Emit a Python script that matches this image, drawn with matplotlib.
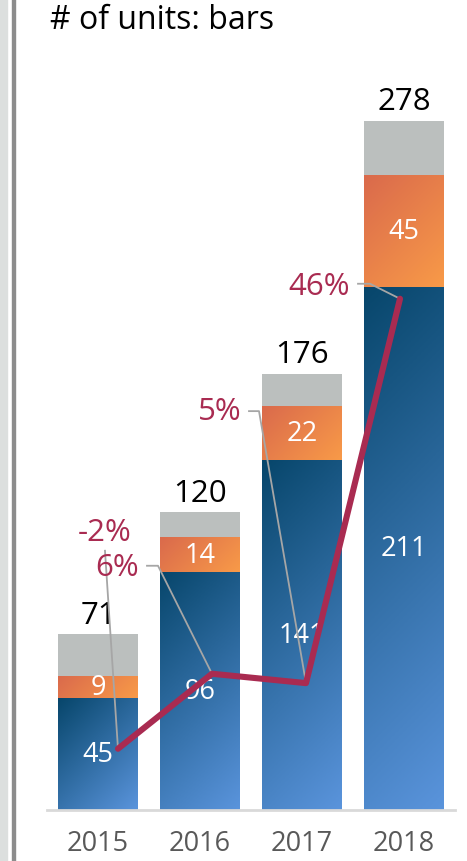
import numpy as np
import matplotlib.pyplot as plt
from matplotlib.colors import LinearSegmentedColormap
from matplotlib.patches import Rectangle
from matplotlib.transforms import IdentityTransform

plt.rcParams['font.family'] = ['Open Sans', 'DejaVu Sans']

# units per year, stacked
years = ['2015', '2016', '2017', '2018']
base_units = [45, 96, 141, 211]
extra_units = [9, 14, 22, 45]
total_units = [71, 120, 176, 278]
other_units = [t - b - e for t, b, e in zip(total_units, base_units, extra_units)]

# growth line (%)
growth = [-2, 6, 5, 46]
growth_labels = ['-2%', '6%', '5%', '46%']

blue_cmap = LinearSegmentedColormap.from_list('blue', ['#07466b', '#5a94dc'])
orange_cmap = LinearSegmentedColormap.from_list('orange', ['#da6a4c', '#f89a48'])
grey = '#bbbfbe'
line_color = '#a92b51'
leader_color = '#a6a6a6'

W, H = 467, 862
fig = plt.figure(figsize=(W / 100, H / 100), dpi=100)

# side strip on the left
fig.patches.append(Rectangle((0, 0), 7 / W, 1, transform=fig.transFigure,
                             color='#dcdfde', zorder=0))
fig.patches.append(Rectangle((12 / W, 0), 3 / W, 1, transform=fig.transFigure,
                             color='#8c8c8c', zorder=0))

left, right, bottom, top = 47, 455, 811, 90
ax = fig.add_axes([left / W, (H - bottom) / H, (right - left) / W, (bottom - top) / H])
ax.set_xlim(-0.5, 3.5)
ax.set_ylim(0, (bottom - top) / 2.48)
for s in ['top', 'right', 'left']:
    ax.spines[s].set_visible(False)
ax.spines['bottom'].set_color('#d9d9d9')
ax.spines['bottom'].set_linewidth(2)
ax.set_yticks([])
ax.set_xticks(range(len(years)))
ax.set_xticklabels(years, fontsize=19.5, color='#595959')
ax.tick_params(axis='x', length=0, pad=14)

bar_w = 0.78
x = np.arange(len(years))


def gradient_bar(xc, y0, h, cmap):
    rect = Rectangle((xc - bar_w / 2, y0), bar_w, h, facecolor='none', edgecolor='none')
    ax.add_patch(rect)
    (px0, py0), (px1, py1) = ax.transData.transform([(xc - bar_w / 2, y0),
                                                     (xc + bar_w / 2, y0 + h)])
    w_px, h_px = abs(px1 - px0), abs(py1 - py0)
    u = np.linspace(0, w_px, 60)
    v = np.linspace(0, h_px, max(int(h_px), 2))
    # row 0 is the top edge: dark top-left, light bottom-right
    t = (u[None, :] + v[:, None]) / (w_px + h_px)
    im = ax.imshow(t, cmap=cmap, extent=(xc - bar_w / 2, xc + bar_w / 2, y0, y0 + h),
                   origin='upper', aspect='auto', vmin=0, vmax=1, zorder=2,
                   interpolation='bilinear')
    im.set_clip_path(rect)


for i in range(len(years)):
    gradient_bar(x[i], 0, base_units[i], blue_cmap)
    gradient_bar(x[i], base_units[i], extra_units[i], orange_cmap)
ax.bar(x, other_units, bar_w, bottom=np.array(base_units) + np.array(extra_units),
       color=grey, zorder=2)
ax.set_xlim(-0.5, 3.5)
ax.set_ylim(0, (bottom - top) / 2.48)

for i in range(len(years)):
    ax.text(x[i], base_units[i] / 2, str(base_units[i]), ha='center', va='center',
            color='white', fontsize=19.5, zorder=3)
    ax.text(x[i], base_units[i] + extra_units[i] / 2, str(extra_units[i]),
            ha='center', va='center', color='white', fontsize=19.5, zorder=3)
    ax.annotate(str(total_units[i]), (x[i], total_units[i]), xytext=(0, 3),
                textcoords='offset points', ha='center', va='bottom',
                fontsize=22.5, color='black', zorder=3)

ax.text(50 / W - left / W, 1 + (top - 21) / (bottom - top), '# of units: bars',
        transform=ax.transAxes, ha='left', va='center', fontsize=23, color='black')

# growth line on its own axes
ax2 = fig.add_axes(ax.get_position(), frameon=False)
ax2.set_xlim(-0.755, 3.585)
ax2.set_ylim(-80 / 9.375, (731 - top) / 9.375)
ax2.set_xticks([])
ax2.set_yticks([])
ax2.plot(x, growth, color=line_color, lw=4.4, solid_capstyle='round',
         solid_joinstyle='round', zorder=5)

# leader offsets in pixels: stub points, then text anchor
leaders = [
    ([(-13, 198)], (-13, 217), 'center'),
    ([(-54, 108), (-65, 108)], (-73, 107), 'right'),
    ([(-47, 272), (-57, 272)], (-64, 272), 'right'),
    ([(-30, 15), (-42, 15)], (-50, 13), 'right'),
]
for i, (stub, txt, ha) in enumerate(leaders):
    px, py = ax2.transData.transform((x[i], growth[i]))
    pts = [(px, py)] + [(px + dx, py + dy) for dx, dy in stub]
    xs, ys = zip(*pts)
    ax2.plot(xs, ys, color=leader_color, lw=1.3, transform=IdentityTransform(), zorder=4)
    ax2.text(px + txt[0], py + txt[1], growth_labels[i], ha=ha, va='center',
             fontsize=22.5, color=line_color, transform=IdentityTransform(), zorder=6)

fig.savefig('out.png', dpi=100)
